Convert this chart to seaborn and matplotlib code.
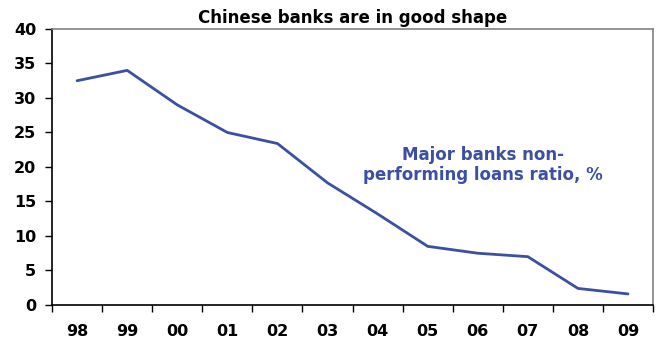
import matplotlib
matplotlib.use("Agg")
import matplotlib.pyplot as plt
import seaborn as sns
import pandas as pd
import numpy as np

years = ["98", "99", "00", "01", "02", "03", "04", "05", "06", "07", "08", "09"]
npl_ratio = [32.5, 34.0, 29.0, 25.0, 23.4, 17.7, 13.2, 8.5, 7.5, 7.0, 2.4, 1.6]
y_ticks = [0, 5, 10, 15, 20, 25, 30, 35, 40]

sns.set_style("white")
plt.rcParams['font.family'] = ['DejaVu Sans']

df = pd.DataFrame({"year": years, "ratio": npl_ratio})

fig = plt.figure(figsize=(6.59, 3.45), dpi=100)
ax = fig.add_axes([0.079, 0.116, 0.912, 0.800])
sns.lineplot(data=df, x="year", y="ratio", ax=ax, color="#3B4FA3", linewidth=2)

ax.set_xlim(-0.5, len(years) - 0.5)
ax.set_ylim(0, 40)
ax.set_yticks(y_ticks)
ax.set_yticklabels([str(t) for t in y_ticks], fontsize=11.5, fontweight="bold", color="black")
ax.set_xticks(range(len(years)))
ax.set_xticklabels(years, fontsize=11.5, fontweight="bold", color="black")
ax.set_xticks(np.arange(-0.5, len(years)), minor=True)
ax.tick_params(axis="x", which="major", length=0, pad=14, bottom=False)
ax.tick_params(axis="x", which="minor", length=5, width=1, color="black",
               direction="out", bottom=True)
ax.tick_params(axis="y", length=5, width=1, color="black", direction="out", pad=6.5, left=True)
ax.set_xlabel("")
ax.set_ylabel("")

for s in ["left", "bottom"]:
    ax.spines[s].set_color("black")
    ax.spines[s].set_linewidth(1.2)
for s in ["top", "right"]:
    ax.spines[s].set_color("#808080")
    ax.spines[s].set_linewidth(1.2)
    ax.spines[s].set_visible(True)

ax.set_title("Chinese banks are in good shape", fontsize=12, fontweight="bold",
             pad=4, color="black")
ax.text(8.1, 20.25, "Major banks non-\nperforming loans ratio, %", color="#3B4FA3",
        fontsize=12, fontweight="bold", ha="center", va="center", linespacing=1.15)

fig.savefig("out.png", dpi=100)
